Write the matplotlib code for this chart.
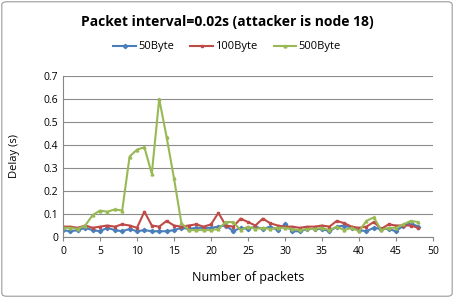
import matplotlib
matplotlib.use("Agg")
import matplotlib.pyplot as plt
from matplotlib.patches import FancyBboxPatch

packets = list(range(49))
s50 = [0.03,0.025,0.03,0.04,0.03,0.025,0.04,0.03,0.025,0.035,0.025,0.03,0.025,0.025,0.025,0.03,0.04,
       0.035,0.04,0.04,0.04,0.045,0.05,0.025,0.04,0.035,0.045,0.035,0.045,0.03,0.055,0.025,0.025,
       0.035,0.035,0.035,0.025,0.045,0.05,0.04,0.03,0.025,0.04,0.035,0.035,0.025,0.05,0.06,0.045]
s100 = [0.045,0.045,0.04,0.05,0.04,0.045,0.05,0.045,0.055,0.05,0.04,0.11,0.05,0.045,0.07,0.05,0.045,
        0.05,0.055,0.045,0.055,0.105,0.05,0.045,0.08,0.065,0.05,0.08,0.06,0.05,0.045,0.045,0.04,
        0.045,0.045,0.05,0.045,0.07,0.06,0.045,0.04,0.045,0.065,0.035,0.055,0.05,0.05,0.05,0.04]
s500 = [0.04,0.04,0.035,0.05,0.095,0.115,0.11,0.12,0.115,0.35,0.38,0.39,0.275,0.6,0.435,0.255,0.06,
        0.03,0.03,0.03,0.03,0.035,0.065,0.065,0.03,0.045,0.035,0.04,0.035,0.04,0.04,0.035,0.03,
        0.035,0.035,0.04,0.03,0.045,0.03,0.04,0.025,0.07,0.085,0.03,0.04,0.04,0.055,0.07,0.065]
labels = ["50Byte", "100Byte", "500Byte"]
xticks = [0, 5, 10, 15, 20, 25, 30, 35, 40, 45, 50]
yticks = [0, 0.1, 0.2, 0.3, 0.4, 0.5, 0.6, 0.7]

plt.rcParams['font.family'] = ['Open Sans', 'DejaVu Sans']
fig = plt.figure(figsize=(4.54, 2.98), dpi=100)
fig.patches.append(FancyBboxPatch((0.004, 0.006), 0.992, 0.988, boxstyle="round,pad=0,rounding_size=0.01",
                                  transform=fig.transFigure, fill=False, edgecolor="#9a9a9a", linewidth=0.8))
ax = fig.add_axes([63/454, 61/298, 370/454, 161/298])

colors = ["#4a7ebb", "#be4b48", "#98b954"]
markers = ["D", "s", "^"]
msizes = [2.2, 1.6, 2.0]
for ys, lab, c, m, ms in zip([s50, s100, s500], labels, colors, markers, msizes):
    ax.plot(packets, ys, color=c, marker=m, markersize=ms, linewidth=1.5, label=lab)

ax.set_xlim(0, 50)
ax.set_ylim(0, 0.7)
ax.set_xticks(xticks)
ax.set_yticks(yticks)
ax.set_yticklabels(["0", "0.1", "0.2", "0.3", "0.4", "0.5", "0.6", "0.7"])
ax.tick_params(axis='both', labelsize=7.5, colors="#000000", length=3, width=0.8)
ax.tick_params(axis='x', color="#868686")
ax.tick_params(axis='y', length=0)
ax.grid(axis='y', color="#8c8c8c", linewidth=0.8)
ax.set_axisbelow(True)
for sp in ["top", "right"]:
    ax.spines[sp].set_visible(False)
for sp in ["left", "bottom"]:
    ax.spines[sp].set_color("#868686")
    ax.spines[sp].set_linewidth(0.8)

ax.set_xlabel("Number of packets", fontsize=9, labelpad=10)
ax.set_ylabel("Delay (s)", fontsize=8)
ax.yaxis.set_label_coords(-0.115, 0.5)
fig.text(0.5, 1 - 22/298, "Packet interval=0.02s (attacker is node 18)", ha="center", va="center",
         fontsize=10, fontweight="bold")
fig.legend(loc="center", bbox_to_anchor=(0.5, 1 - 47/298), ncol=3, frameon=False, fontsize=8,
           handlelength=2.0, columnspacing=1.5, handletextpad=0.2)

fig.savefig("out.png", dpi=100)
